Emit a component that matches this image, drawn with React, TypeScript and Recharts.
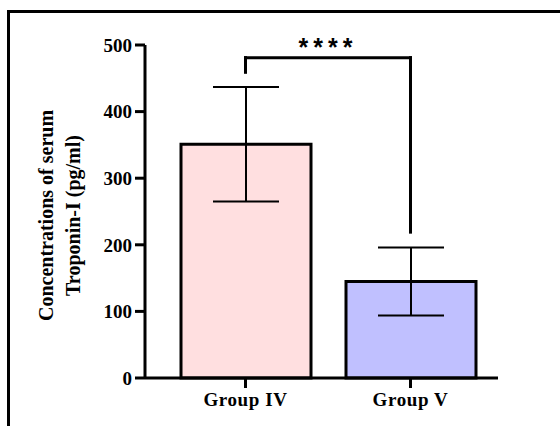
import { BarChart, Bar, XAxis, YAxis, Cell, ErrorBar, ReferenceLine, Label } from "recharts";

const GROUPS = ["Group IV", "Group V"];
const MEANS = [351, 145];
const SD = [86, 51];
const FILLS = ["#ffdfe0", "#c0c0ff"];
const Y_TICKS = [0, 100, 200, 300, 400, 500];

// significance bracket (y values in pg/ml)
const BRACKET_TOP = 481;
const BRACKET_LEFT_END = 459;
const BRACKET_RIGHT_END = 219;
const SIG_LABEL = "****";

const Y_LABEL = ["Concentrations of serum", "Troponin-I (pg/ml)"];

const SERIF = '"Liberation Serif", "Times New Roman", serif';
const SANS = '"Liberation Sans", Arial, sans-serif';

const data = GROUPS.map((name, i) => ({ name, mean: MEANS[i], sd: SD[i] }));

function YTitle(props: any) {
  const vb = props.viewBox || {};
  const cy = vb.y + vb.height / 2 + 4;
  return (
    <g>
      {Y_LABEL.map((t, i) => {
        const x = 46 + i * 27;
        return (
          <text
            key={t}
            x={x}
            y={cy}
            transform={`rotate(-90 ${x} ${cy})`}
            textAnchor="middle"
            dominantBaseline="central"
            fontFamily={SERIF}
            fontWeight={700}
            fontSize={20}
            fill="#000"
          >
            {t}
          </text>
        );
      })}
    </g>
  );
}

export default function App() {
  const axisStyle = { stroke: "#000", strokeWidth: 3 };
  const tickFont = { fill: "#000", fontSize: 19, fontWeight: 700, fontFamily: SERIF };
  return (
    <div style={{ position: "absolute", left: 0, top: 0, width: 560, height: 426, background: "#fff" }}>
      <div
        style={{
          position: "absolute",
          left: 7,
          top: 10,
          width: 553,
          height: 414,
          borderTop: "3px solid #000",
          borderLeft: "3px solid #000",
          borderBottom: "1px solid #d0d0d0",
        }}
      />
      <div style={{ position: "absolute", left: 0, top: 0 }}>
        <BarChart width={560} height={426} data={data} margin={{ top: 45, right: 62, bottom: 18, left: 0 }}>
          <YAxis
            width={145}
            domain={[0, 500]}
            ticks={Y_TICKS}
            interval={0}
            axisLine={axisStyle}
            tickLine={axisStyle}
            tickSize={10}
            tickMargin={3}
            tick={tickFont}
          >
            <Label content={<YTitle />} />
          </YAxis>
          <XAxis
            dataKey="name"
            height={30}
            padding={{ left: 18, right: 5 }}
            axisLine={axisStyle}
            tickLine={axisStyle}
            tickSize={10}
            tickMargin={5}
            tick={{ ...tickFont, letterSpacing: 0.6 }}
          />
          <Bar dataKey="mean" barSize={130} stroke="#000" strokeWidth={3} isAnimationActive={false}>
            {data.map((d, i) => (
              <Cell key={d.name} fill={FILLS[i]} />
            ))}
            <ErrorBar dataKey="sd" width={33} stroke="#000" strokeWidth={2} isAnimationActive={false} />
          </Bar>
          <ReferenceLine
            segment={[
              { x: GROUPS[0], y: BRACKET_LEFT_END },
              { x: GROUPS[0], y: BRACKET_TOP },
            ]}
            stroke="#000"
            strokeWidth={3}
            strokeLinecap="square"
          />
          <ReferenceLine
            segment={[
              { x: GROUPS[0], y: BRACKET_TOP },
              { x: GROUPS[1], y: BRACKET_TOP },
            ]}
            stroke="#000"
            strokeWidth={3}
            strokeLinecap="square"
          >
            <Label
              value={SIG_LABEL}
              position="top"
              offset={2}
              fill="#000"
              fontSize={25}
              fontWeight={700}
              fontFamily={SANS}
              letterSpacing={5}
            />
          </ReferenceLine>
          <ReferenceLine
            segment={[
              { x: GROUPS[1], y: BRACKET_TOP },
              { x: GROUPS[1], y: BRACKET_RIGHT_END },
            ]}
            stroke="#000"
            strokeWidth={3}
            strokeLinecap="square"
          />
        </BarChart>
      </div>
    </div>
  );
}
